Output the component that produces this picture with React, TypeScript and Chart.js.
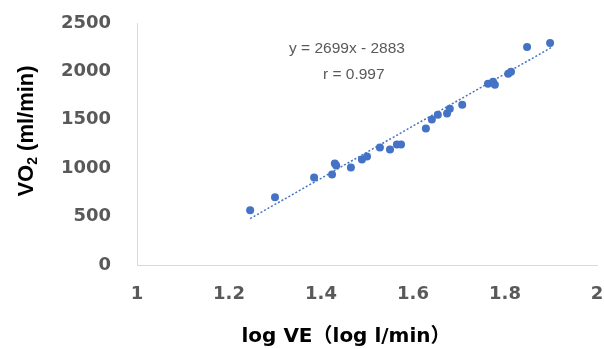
import React, { useEffect, useRef } from "react";
import { Chart, registerables } from "chart.js";

Chart.register(...registerables);

const logVE = [1.246, 1.3, 1.385, 1.424, 1.433, 1.43, 1.465, 1.489, 1.5, 1.528, 1.55, 1.565, 1.574, 1.628, 1.641, 1.654, 1.674, 1.68, 1.707, 1.763, 1.774, 1.778, 1.807, 1.813, 1.848, 1.898];
const vo2 = [566, 700, 905, 936, 1029, 1049, 1008, 1091, 1121, 1214, 1193, 1245, 1245, 1409, 1502, 1553, 1564, 1615, 1656, 1872, 1893, 1862, 1975, 1996, 2253, 2294];
const trendX = [1.246, 1.9];
const trendY = [480, 2245];
const equationText = "y = 2699x - 2883";
const rText = "r = 0.997";
const xTitle = "log VE（log l/min）";
const yTitleMain = "VO";
const yTitleSub = "2";
const yTitleRest = " (ml/min)";

const BLUE = "#4472C4";
const GRAY = "#595959";
const AXIS = "#D9D9D9";

export default function App() {
  const ref = useRef<HTMLCanvasElement | null>(null);
  useEffect(() => {
    const canvas = ref.current;
    if (!canvas) return;
    const textPlugin = {
      id: "texts",
      afterDraw(chart: any) {
        const ctx = chart.ctx;
        ctx.save();
        // annotation
        ctx.fillStyle = GRAY;
        ctx.font = '15.5px "Liberation Sans", Arial, sans-serif';
        ctx.textBaseline = "middle";
        ctx.textAlign = "left";
        ctx.fillText(equationText, 289, 49);
        ctx.fillText(rText, 323, 75);
        // x title
        ctx.fillStyle = "#000";
        ctx.font = 'bold 20px "DejaVu Sans", "Noto Sans CJK JP", sans-serif';
        ctx.textAlign = "center";
        ctx.fillText(xTitle, 346, 337);
        // y title
        ctx.translate(27, 131);
        ctx.rotate(-Math.PI / 2);
        const bigFont = 'bold 22px "Liberation Sans", Arial, sans-serif';
        const smallFont = 'bold 14px "Liberation Sans", Arial, sans-serif';
        ctx.font = bigFont;
        const w1 = ctx.measureText(yTitleMain).width;
        const w3 = ctx.measureText(yTitleRest).width;
        ctx.font = smallFont;
        const w2 = ctx.measureText(yTitleSub).width;
        const total = w1 + w2 + w3;
        let x = -total / 2;
        ctx.textAlign = "left";
        ctx.font = bigFont;
        ctx.fillText(yTitleMain, x, 0);
        x += w1;
        ctx.font = smallFont;
        ctx.fillText(yTitleSub, x, 6);
        x += w2;
        ctx.font = bigFont;
        ctx.fillText(yTitleRest, x, 0);
        ctx.restore();
      },
    };
    const chart = new Chart(canvas, {
      type: "scatter",
      data: {
        datasets: [
          {
            label: "trend",
            type: "line",
            data: trendX.map((x, i) => ({ x, y: trendY[i] })),
            borderColor: BLUE,
            borderWidth: 1.5,
            borderDash: [2, 2],
            pointRadius: 0,
            fill: false,
            order: 2,
          } as any,
          {
            label: "data",
            data: logVE.map((x, i) => ({ x, y: vo2[i] })),
            backgroundColor: BLUE,
            borderColor: BLUE,
            pointRadius: 4,
            borderWidth: 0,
            order: 1,
          },
        ],
      },
      options: {
        responsive: false,
        animation: false,
        layout: { padding: { top: 23, right: 7, left: 0, bottom: 0 } },
        plugins: { legend: { display: false }, tooltip: { enabled: false } },
        scales: {
          x: {
            type: "linear",
            min: 1,
            max: 2,
            afterFit(scale: any) {
              scale.height = 84;
              scale.paddingLeft = 0;
              scale.paddingRight = 0;
            },
            ticks: {
              stepSize: 0.2,
              color: GRAY,
              padding: 19,
              maxRotation: 0,
              font: { family: '"DejaVu Sans", sans-serif', size: 18, weight: "bold" },
              callback: (v: any) => String(Math.round(Number(v) * 10) / 10),
            },
            grid: { display: true, drawOnChartArea: false, drawTicks: false, color: AXIS },
            border: { display: true, color: AXIS, width: 1 },
          },
          y: {
            type: "linear",
            min: 0,
            max: 2500,
            afterFit(scale: any) {
              scale.width = 137;
              scale.paddingTop = 0;
              scale.paddingBottom = 0;
            },
            ticks: {
              stepSize: 500,
              color: GRAY,
              padding: 26,
              font: { family: '"DejaVu Sans", sans-serif', size: 18, weight: "bold" },
              callback: (v: any) => String(v),
            },
            grid: { display: true, drawOnChartArea: false, drawTicks: false, color: AXIS },
            border: { display: true, color: AXIS, width: 1 },
          },
        },
      },
      plugins: [textPlugin],
    });
    return () => chart.destroy();
  }, []);
  return (
    <div style={{ position: "fixed", left: 0, top: 0, width: 604, height: 349, background: "#fff" }}>
      <canvas ref={ref} width={604} height={349} />
    </div>
  );
}
